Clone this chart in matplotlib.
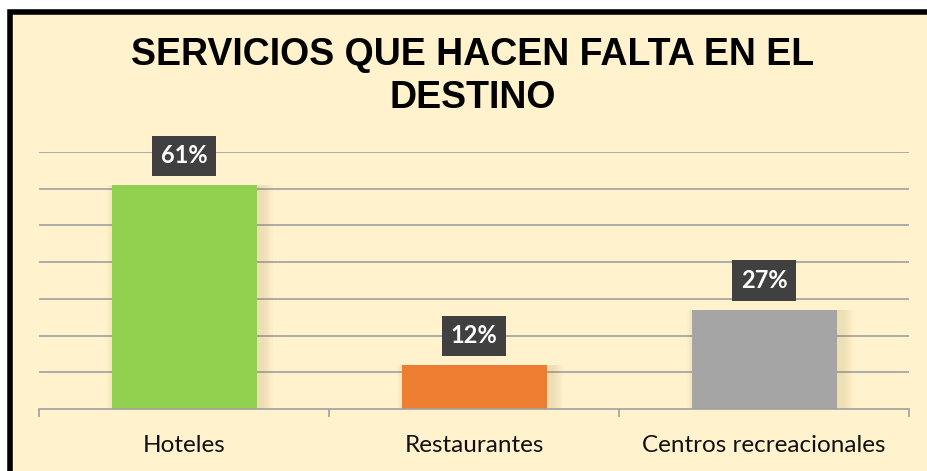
import matplotlib.pyplot as plt
from matplotlib.patches import Rectangle

categorias = ['Hoteles', 'Restaurantes', 'Centros recreacionales']
valores = [61, 12, 27]
etiquetas = ['61%', '12%', '27%']
colores = ['#92D050', '#ED7D31', '#A5A5A5']

W, H = 927, 471
fig = plt.figure(figsize=(W / 100, H / 100), dpi=100)
fig.patch.set_facecolor('white')

# fondo crema con borde negro arriba e izquierda
fig.patches.append(Rectangle((9.5 / W, -0.1), 1.2, (H - 12) / H + 0.1,
                             transform=fig.transFigure, facecolor='#FFF2CC',
                             edgecolor='black', linewidth=4, zorder=-5))

ax = fig.add_axes([39 / W, (H - 409) / H, (909 - 39) / W, (409 - 152) / H])
ax.set_facecolor('none')
x = range(len(categorias))

# sombra suave de las barras
for i, v in zip(x, valores):
    for k in range(1, 7):
        ax.bar(i + 0.02, v, width=0.5 + 0.012 * k, color='#8a6d2a',
               alpha=0.025, zorder=1)
ax.bar(x, valores, width=0.5, color=colores, zorder=2)

ax.set_xlim(-0.5, 2.5)
ax.set_ylim(0, 70)
ax.set_yticks(range(10, 71, 10))
ax.yaxis.grid(True, color='#A0A0A0', linewidth=1.2)
ax.set_axisbelow(True)
ax.tick_params(axis='y', left=False, labelleft=False)
for s in ['top', 'right', 'left']:
    ax.spines[s].set_visible(False)
ax.spines['bottom'].set_color('#A0A0A0')
ax.spines['bottom'].set_linewidth(1.2)

ax.set_xticks(list(x))
ax.set_xticklabels(categorias, fontsize=17.5, family='Lato', color='#111111')
ax.tick_params(axis='x', which='major', length=0, pad=19)
ax.set_xticks([-0.5, 0.5, 1.5, 2.5], minor=True)
ax.tick_params(axis='x', which='minor', length=6, color='#A0A0A0', width=1.2)

for i, v, t in zip(x, valores, etiquetas):
    ax.annotate(t, (i, v), xytext=(0, 21), textcoords='offset points',
                ha='center', va='center', color='white', fontsize=17,
                fontweight='bold', family='Lato', zorder=5,
                bbox=dict(boxstyle='square,pad=0.37', facecolor='#404040',
                          edgecolor='none'))

fig.text(473 / W, (H - 55) / H, 'SERVICIOS QUE HACEN FALTA EN EL', ha='center',
         va='center', fontsize=27, fontweight='bold', family='Liberation Sans')
fig.text(473 / W, (H - 98) / H, 'DESTINO', ha='center', va='center',
         fontsize=27, fontweight='bold', family='Liberation Sans')

fig.savefig('out.png', dpi=100)
